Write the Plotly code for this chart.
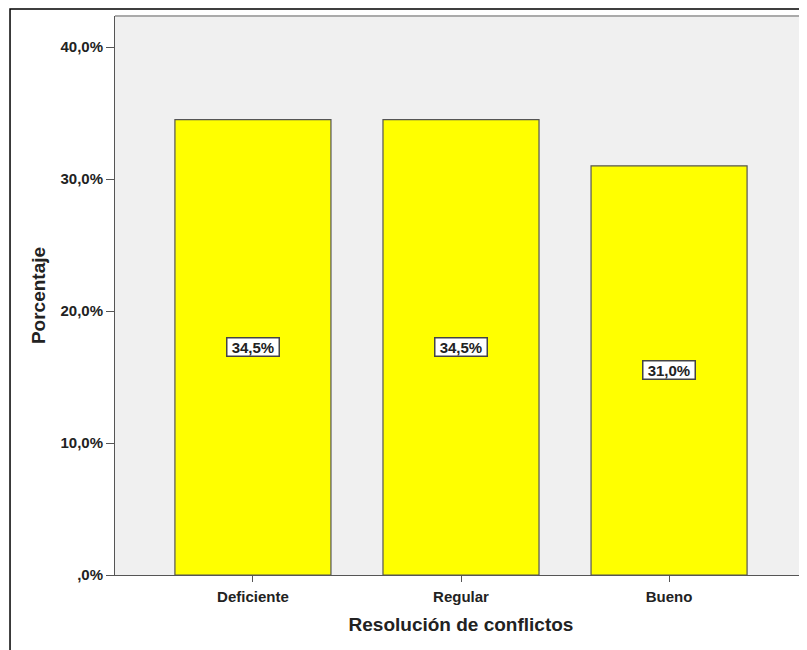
import plotly.graph_objects as go

categories = ["Deficiente", "Regular", "Bueno"]
values = [34.5, 34.5, 31.0]
value_labels = ["34,5%", "34,5%", "31,0%"]
y_tickvals = [0, 10, 20, 30, 40]
y_ticktext = [",0%", "10,0%", "20,0%", "30,0%", "40,0%"]

FONT = "Liberation Sans"

fig = go.Figure()
fig.add_trace(go.Bar(
    x=categories, y=values, width=0.75,
    marker=dict(color="#ffff00", line=dict(color="#555555", width=1.2)),
    hoverinfo="skip",
))

for c, v, t in zip(categories, values, value_labels):
    fig.add_annotation(
        x=c, y=v / 2, text="&nbsp;<b>" + t + "</b>&nbsp;", showarrow=False,
        font=dict(family=FONT, size=15, color="#222222"),
        bgcolor="white", bordercolor="#444444", borderwidth=1.5, borderpad=0,
    )

# outer frame
fig.add_shape(type="rect", xref="paper", yref="paper",
              x0=-0.1517, x1=1.05, y0=-0.2, y1=1.0125,
              line=dict(color="black", width=1.5), layer="below")
# plot top border
fig.add_shape(type="line", xref="paper", yref="paper",
              x0=0, x1=1, y0=1, y1=1,
              line=dict(color="#aaaaaa", width=2))

fig.update_layout(
    width=799, height=642,
    margin=dict(l=107, r=0, t=8, b=75),
    paper_bgcolor="white", plot_bgcolor="#f0f0f0",
    showlegend=False,
    xaxis=dict(
        range=[-0.663, 2.663], showgrid=False, zeroline=False,
        showline=True, linecolor="#555555", linewidth=1,
        ticks="outside", ticklen=6, tickcolor="#555555",
        ticklabelstandoff=2,
        tickfont=dict(family=FONT, size=15, color="#222222"),
        tickprefix="<b>", ticksuffix="</b>",
        title=dict(text="<b>Resolución de conflictos</b>",
                   font=dict(family=FONT, size=19, color="#222222"), standoff=13),
    ),
    yaxis=dict(
        range=[0, 42.35], showgrid=False, zeroline=False,
        showline=True, linecolor="#555555", linewidth=1,
        ticks="outside", ticklen=8, tickcolor="#555555",
        tickvals=y_tickvals, ticktext=["<b>" + t + "</b>" for t in y_ticktext],
        tickfont=dict(family=FONT, size=15, color="#222222"),
        title=dict(text="<b>Porcentaje</b>",
                   font=dict(family=FONT, size=19, color="#222222"), standoff=9),
    ),
)

fig.write_html("out.html")
